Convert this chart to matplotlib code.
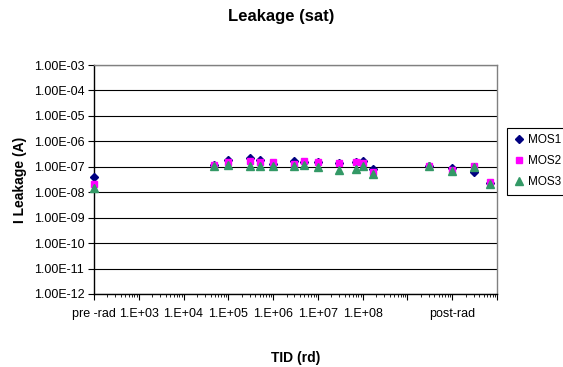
import matplotlib
matplotlib.use("Agg")
import matplotlib.pyplot as plt
from matplotlib.ticker import FixedLocator, LogLocator, NullFormatter, NullLocator

plt.rcParams['font.family'] = ['Liberation Sans', 'DejaVu Sans']

# ---- data ----
tid = [1e2, 4.8e4, 1e5, 3e5, 5e5, 1e6, 3e6, 5e6, 1e7, 3e7, 7e7, 1e8, 1.7e8,
       3e9, 1e10, 3e10, 7e10]
mos1 = [4.1e-8, 1.2e-7, 1.9e-7, 2.2e-7, 1.8e-7, 1.3e-7, 1.7e-7, 1.5e-7, 1.6e-7,
        1.4e-7, 1.5e-7, 1.7e-7, 8.3e-8, 1.1e-7, 9e-8, 6.5e-8, 2.4e-8]
mos2 = [2.1e-8, 1.2e-7, 1.6e-7, 1.7e-7, 1.5e-7, 1.5e-7, 1.3e-7, 1.7e-7, 1.6e-7,
        1.4e-7, 1.5e-7, 1.4e-7, 6.5e-8, 1.1e-7, 7.6e-8, 1.1e-7, 2.5e-8]
mos3 = [1.45e-8, 1.1e-7, 1.2e-7, 1.1e-7, 1.1e-7, 1.1e-7, 1.05e-7, 1.2e-7, 1.0e-7,
        7.6e-8, 8.3e-8, 1.1e-7, 5.2e-8, 1.1e-7, 7e-8, 1.0e-7, 2.2e-8]

x_tick_vals = [1e2, 1e3, 1e4, 1e5, 1e6, 1e7, 1e8, 1e9, 1e10, 1e11]
x_tick_labels = ['pre -rad', '1.E+03', '1.E+04', '1.E+05', '1.E+06', '1.E+07',
                 '1.E+08', '', 'post-rad', '']
y_tick_vals = [1e-12, 1e-11, 1e-10, 1e-9, 1e-8, 1e-7, 1e-6, 1e-5, 1e-4, 1e-3]
y_tick_labels = ['1.00E-12', '1.00E-11', '1.00E-10', '1.00E-09', '1.00E-08',
                 '1.00E-07', '1.00E-06', '1.00E-05', '1.00E-04', '1.00E-03']

fig = plt.figure(figsize=(5.63, 3.67), dpi=100)
ax = fig.add_axes([94/563, 1-294/367, (497-94)/563, (294-65)/367])

ax.set_xscale('log')
ax.set_yscale('log')
ax.set_xlim(1e2, 1e11)
ax.set_ylim(1e-12, 1e-3)

for yv in y_tick_vals:
    ax.axhline(yv, color='black', lw=0.8, zorder=1)

ax.plot(tid, mos1, linestyle='none', marker='D', ms=4.2, color='#000080',
        mec='#000080', label='MOS1', clip_on=False, zorder=3)
ax.plot(tid, mos2, linestyle='none', marker='s', ms=5, color='#FF00FF',
        mec='#FF00FF', label='MOS2', clip_on=False, zorder=4)
ax.plot(tid, mos3, linestyle='none', marker='^', ms=5.5, color='#339966',
        mec='#339966', label='MOS3', clip_on=False, zorder=5)

ax.xaxis.set_major_locator(FixedLocator(x_tick_vals))
ax.set_xticklabels(x_tick_labels, fontsize=9)
ax.xaxis.set_minor_locator(LogLocator(base=10, subs=range(2, 10), numticks=20))
ax.xaxis.set_minor_formatter(NullFormatter())
ax.yaxis.set_major_locator(FixedLocator(y_tick_vals))
ax.set_yticklabels(y_tick_labels, fontsize=9)
ax.yaxis.set_minor_locator(NullLocator())

ax.tick_params(axis='x', which='major', direction='out', length=4, width=0.8,
               pad=6, color='black')
ax.tick_params(axis='x', which='minor', direction='out', length=2.5, width=0.6,
               color='black')
ax.tick_params(axis='y', which='major', direction='out', length=4, width=0.8,
               pad=3, color='black')

for s in ['left', 'bottom']:
    ax.spines[s].set_color('black')
    ax.spines[s].set_linewidth(1.0)
for s in ['top', 'right']:
    ax.spines[s].set_color('#808080')
    ax.spines[s].set_linewidth(1.0)
ax.set_zorder(2)

fig.text(0.5, 1-17/367, 'Leakage (sat)', ha='center', va='center',
         fontsize=12, fontweight='bold')
fig.text(296/563, 1-358/367, 'TID (rd)', ha='center', va='center',
         fontsize=10, fontweight='bold')
fig.text(20/563, 1-180/367, 'I Leakage (A)', ha='center', va='center',
         rotation=90, fontsize=10, fontweight='bold')

leg = fig.legend(loc='upper left', bbox_to_anchor=(507/563, 1-128/367),
                 fontsize=8.5, frameon=True, fancybox=False, framealpha=1,
                 edgecolor='black', handletextpad=0.2, handlelength=1.0,
                 labelspacing=0.75, borderpad=0.55, borderaxespad=0)
leg.get_frame().set_linewidth(0.8)

fig.savefig('out.png', dpi=100)
